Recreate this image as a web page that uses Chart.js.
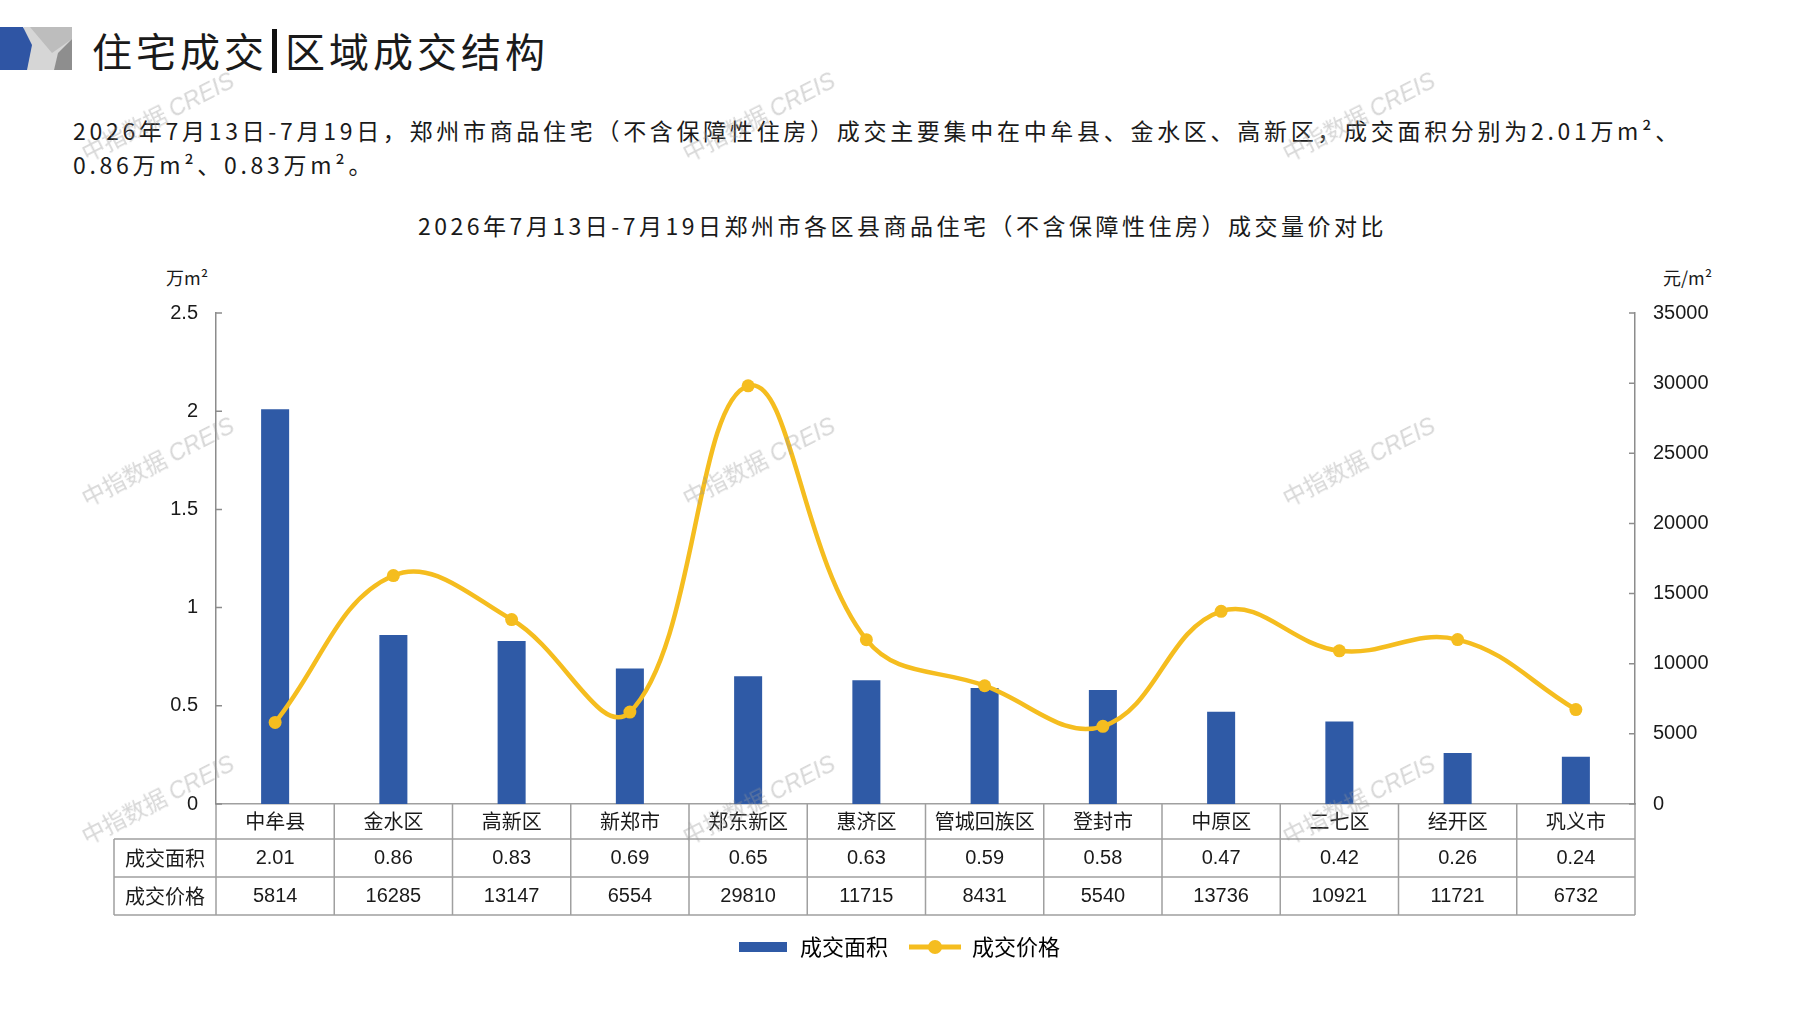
<!DOCTYPE html>
<html>
<head>
<meta charset="utf-8">
<script src="https://cdn.jsdelivr.net/npm/chart.js@4"></script>
<style>
  html, body { margin: 0; padding: 0; background: #fff; }
  body { width: 1797px; height: 1010px; position: relative; overflow: hidden;
         font-family: "Noto Sans CJK SC", "Noto Sans", sans-serif; color: #1a1a1a; }
  #chart { position: absolute; left: 0; top: 0; }
  .abs { position: absolute; white-space: nowrap; }
  #logo { position: absolute; left: 0; top: 27px; }
  #title { left: 92px; top: 22px; font-size: 40px; letter-spacing: 4px; line-height: 56px; }
  #title .bar { display: inline-block; width: 5px; height: 44px; background: #111; vertical-align: -6px; margin: 0 8px 0 4px; }
  #desc { left: 73px; top: 113px; font-size: 23px; letter-spacing: 3.7px; line-height: 34px; }
  #ctitle { left: 4px; width: 1797px; text-align: center; top: 210px; font-size: 23px; letter-spacing: 3.5px; line-height: 30px; }
  .unit { top: 264px; font-size: 18px; line-height: 26px; }
  .wm { position: absolute; font-size: 23px; color: rgba(150,150,150,0.38); transform: translate(-50%, -50%) rotate(-27deg); white-space: nowrap; pointer-events: none; }
  .wm i { font-family: "Liberation Sans", Arial, sans-serif; }
</style>
</head>
<body>
<svg id="logo" width="74" height="44" viewBox="0 0 74 44">
  <rect x="24" y="0" width="48" height="43" fill="#d6d6d6"/>
  <polygon points="30,0 72,0 72,12 52,26" fill="#bdbdbd"/>
  <polygon points="72,12 72,43 54,43 58,26" fill="#8e8e8e"/>
  <polygon points="0,0 23,0 32,18 27,43 0,43" fill="#2f55a4"/>
</svg>
<div id="title" class="abs">住宅成交<span class="bar"></span>区域成交结构</div>
<div id="desc" class="abs">2026年7月13日-7月19日，郑州市商品住宅（不含保障性住房）成交主要集中在中牟县、金水区、高新区，成交面积分别为2.01万m²、<br>0.86万m²、0.83万m²。</div>
<div id="ctitle" class="abs">2026年7月13日-7月19日郑州市各区县商品住宅（不含保障性住房）成交量价对比</div>
<div class="abs unit" style="left:166px;">万m²</div>
<div class="abs unit" style="left:1663px;">元/m²</div>
<canvas id="chart" width="1797" height="1010"></canvas>

<script>
// 区县
const districts = ['中牟县', '金水区', '高新区', '新郑市', '郑东新区', '惠济区', '管城回族区', '登封市', '中原区', '二七区', '经开区', '巩义市'];
// 成交面积（万m²）
const areaValues = [2.01, 0.86, 0.83, 0.69, 0.65, 0.63, 0.59, 0.58, 0.47, 0.42, 0.26, 0.24];
// 成交价格（元/m²）
const priceValues = [5814, 16285, 13147, 6554, 29810, 11715, 8431, 5540, 13736, 10921, 11721, 6732];
// 坐标轴
const areaTicks = [0, 0.5, 1, 1.5, 2, 2.5];
const priceTicks = [0, 5000, 10000, 15000, 20000, 25000, 30000, 35000];
const rowNames = ['成交面积', '成交价格'];

const BLUE = '#2f5aa6';
const YELLOW = '#f5bd1f';
const GRID = '#a0a0a0';

// 图例小图标
function legendIcon(kind) {
  const c = document.createElement('canvas');
  c.width = 52; c.height = 16;
  const g = c.getContext('2d');
  if (kind === 'bar') {
    g.fillStyle = BLUE;
    g.fillRect(2, 3, 48, 10);
  } else {
    g.strokeStyle = YELLOW;
    g.lineWidth = 5;
    g.beginPath(); g.moveTo(0, 8); g.lineTo(52, 8); g.stroke();
    g.fillStyle = YELLOW;
    g.beginPath(); g.arc(26, 8, 7, 0, Math.PI * 2); g.fill();
  }
  return c;
}
const icons = [legendIcon('bar'), legendIcon('line')];

// 数据表 + 内侧刻度
const tablePlugin = {
  id: 'dataTable',
  afterDraw(chart) {
    const ctx = chart.ctx;
    const x = chart.scales.x;
    const area = chart.chartArea;
    const rowTop = [area.bottom, area.bottom + 35, area.bottom + 73, area.bottom + 111];
    const tableLeft = 114;
    const n = districts.length;
    const bounds = [area.left];
    for (let i = 1; i < n; i++) {
      bounds.push((x.getPixelForValue(i - 1) + x.getPixelForValue(i)) / 2);
    }
    bounds.push(area.right);

    ctx.save();
    ctx.strokeStyle = GRID;
    ctx.lineWidth = 1.5;
    ctx.beginPath();
    bounds.forEach(b => { ctx.moveTo(b, rowTop[0]); ctx.lineTo(b, rowTop[3]); });
    ctx.moveTo(tableLeft, rowTop[1]); ctx.lineTo(tableLeft, rowTop[3]);
    for (let r = 1; r < 4; r++) {
      ctx.moveTo(tableLeft, rowTop[r]); ctx.lineTo(area.right, rowTop[r]);
    }
    ctx.stroke();

    ctx.fillStyle = '#1a1a1a';
    ctx.textAlign = 'center';
    ctx.textBaseline = 'middle';
    const rows = [areaValues.map(v => v.toFixed(2)), priceValues.map(v => String(v))];
    rows.forEach((vals, r) => {
      const cy = (rowTop[r + 1] + rowTop[r + 2]) / 2;
      ctx.font = '20px "Noto Sans CJK SC"';
      ctx.fillText(rowNames[r], (tableLeft + area.left) / 2, cy);
      ctx.font = '20px "Liberation Sans", Arial';
      vals.forEach((t, i) => ctx.fillText(t, x.getPixelForValue(i), cy));
    });

    // 内侧刻度线
    ctx.strokeStyle = '#8c8c8c';
    ctx.beginPath();
    chart.scales.y.ticks.forEach(t => {
      const py = chart.scales.y.getPixelForValue(t.value);
      ctx.moveTo(area.left, py); ctx.lineTo(area.left + 6, py);
    });
    chart.scales.y1.ticks.forEach(t => {
      const py = chart.scales.y1.getPixelForValue(t.value);
      ctx.moveTo(area.right, py); ctx.lineTo(area.right - 6, py);
    });
    ctx.stroke();
    ctx.restore();
  }
};

const tickFont = { family: '"Liberation Sans", Arial, sans-serif', size: 20 };

new Chart(document.getElementById('chart').getContext('2d'), {
  type: 'bar',
  data: {
    labels: districts,
    datasets: [{
      type: 'bar',
      label: '成交面积',
      data: areaValues,
      backgroundColor: BLUE,
      yAxisID: 'y',
      order: 2,
      categoryPercentage: 1,
      barPercentage: 0.237
    }, {
      type: 'line',
      label: '成交价格',
      data: priceValues,
      borderColor: YELLOW,
      backgroundColor: YELLOW,
      borderWidth: 4.5,
      pointRadius: 6.5,
      pointBorderWidth: 0,
      pointBackgroundColor: YELLOW,
      tension: 0.4,
      yAxisID: 'y1',
      order: 1
    }]
  },
  plugins: [tablePlugin],
  options: {
    responsive: false,
    animation: false,
    devicePixelRatio: 1,
    layout: { padding: { top: 313, left: 0, right: 0, bottom: 42 } },
    scales: {
      x: {
        offset: true,
        grid: { display: false, drawTicks: false },
        border: { color: GRID, width: 1.5 },
        ticks: { font: { family: '"Noto Sans CJK SC"', size: 20 }, color: '#1a1a1a', padding: 5.5, maxRotation: 0, autoSkip: false },
        afterFit(s) { s.height = 111; }
      },
      y: {
        position: 'left',
        min: 0, max: 2.5,
        afterBuildTicks(s) { s.ticks = areaTicks.map(v => ({ value: v })); },
        grid: { display: false, drawTicks: false },
        border: { color: '#8c8c8c', width: 1.5 },
        ticks: { font: tickFont, color: '#1a1a1a', padding: 18, callback: v => String(v) },
        afterFit(s) { s.width = 216; }
      },
      y1: {
        position: 'right',
        min: 0, max: 35000,
        afterBuildTicks(s) { s.ticks = priceTicks.map(v => ({ value: v })); },
        grid: { display: false, drawTicks: false },
        border: { color: '#8c8c8c', width: 1.5 },
        ticks: { font: tickFont, color: '#1a1a1a', padding: 18, callback: v => String(v) },
        afterFit(s) { s.width = 162; }
      }
    },
    plugins: {
      tooltip: { enabled: false },
      legend: {
        position: 'bottom',
        labels: {
          usePointStyle: true,
          pointStyleWidth: 52,
          padding: 21,
          color: '#1a1a1a',
          font: { family: '"Noto Sans CJK SC"', size: 22 },
          generateLabels(chart) {
            return chart.data.datasets.map((ds, i) => ({
              text: ds.label,
              pointStyle: icons[i],
              fillStyle: ds.backgroundColor,
              strokeStyle: ds.borderColor,
              lineWidth: 0,
              hidden: false,
              datasetIndex: i
            }));
          }
        }
      }
    }
  }
});

// 水印
const wmSpots = [[157, 115], [758, 115], [1358, 115], [157, 460], [758, 460], [1358, 460], [157, 798], [758, 798], [1358, 798]];
wmSpots.forEach(([l, t]) => {
  const d = document.createElement('div');
  d.className = 'wm';
  d.style.left = l + 'px';
  d.style.top = t + 'px';
  d.innerHTML = '中指数据 <i>CREIS</i>';
  document.body.appendChild(d);
});
</script>
</body>
</html>
